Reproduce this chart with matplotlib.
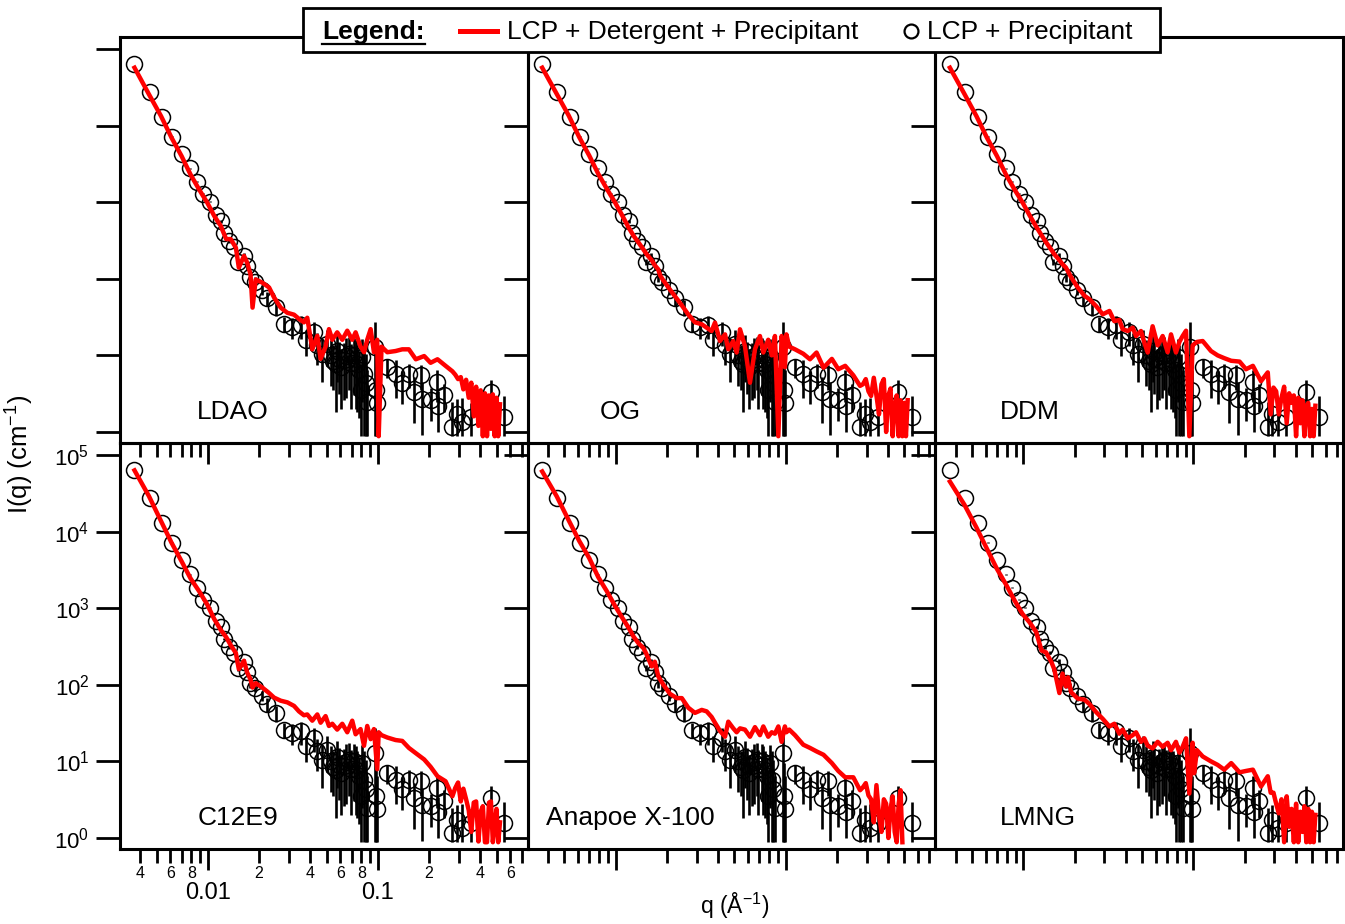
import numpy as np
import matplotlib
matplotlib.use("Agg")
import matplotlib.pyplot as plt
from matplotlib.ticker import LogLocator, NullLocator, NullFormatter, FuncFormatter
from matplotlib.lines import Line2D
from matplotlib.patches import Rectangle

plt.rcParams['font.family'] = ['Liberation Sans', 'DejaVu Sans']
plt.rcParams['mathtext.default'] = 'regular'

# LCP + Precipitant (same control curve in every panel)
q_circ = [0.00369, 0.00454, 0.00538, 0.00617, 0.00702, 0.00787, 0.00863, 0.00938, 0.01028, 0.0111,
          0.0120, 0.01248, 0.01337, 0.01432, 0.0150, 0.0162, 0.01706, 0.01778, 0.01886, 0.02066,
          0.0223, 0.0252, 0.0280, 0.0313, 0.0351, 0.0376, 0.0421, 0.0440, 0.0470, 0.0503,
          0.0527, 0.0545, 0.0564, 0.0578, 0.0590, 0.0610, 0.0631, 0.0650, 0.0675, 0.0690,
          0.0722, 0.0740, 0.0755, 0.0775, 0.0791, 0.0810, 0.0828, 0.0845, 0.0865, 0.0960,
          0.0975, 0.0985, 0.1135, 0.127, 0.139, 0.152, 0.163, 0.178, 0.182, 0.204,
          0.223, 0.226, 0.244, 0.2735, 0.292, 0.313, 0.351, 0.460, 0.551]
I_circ = [63700, 27700, 12850, 7190, 4270, 2775, 1860, 1285, 1020, 684,
          560, 394, 307, 264, 168, 200, 145, 104, 92, 72,
          56, 43, 26, 23.5, 24.6, 15.7, 20.2, 13.5, 10.5, 14.2,
          10.0, 8.5, 7.8, 11.5, 9.1, 7.0, 8.6, 9.8, 10.5, 8.0,
          10.0, 9.0, 7.8, 6.5, 3.5, 9.5, 5.8, 4.3, 2.5, 12.9,
          3.5, 2.4, 7.1, 5.8, 4.3, 5.8, 3.3, 5.5, 2.7, 2.6,
          4.5, 2.2, 3.0, 1.16, 1.73, 1.35, 1.57, 3.33, 1.57]
err_circ = [300, 150, 80, 50, 40, 30, 25, 20, 20, 20,
            20, 15, 15, 15, 15, 15, 15, 12, 12, 10,
            12, 10, 6, 7, 8, 6, 7, 6, 6, 7,
            6, 5, 6, 7, 6, 5, 6, 7, 7, 6,
            7, 7, 6, 5, 4, 7, 8, 6, 4, 14,
            6, 4, 2, 3, 2, 2, 2, 2, 1.8, 1.2,
            2.0, 1.2, 1.2, 1.3, 1.0, 1.4, 0.8, 1.5, 1.4]

# LCP + Detergent + Precipitant, read on one q grid
q_red = [0.0037, 0.0045, 0.0053, 0.0061, 0.0070, 0.0079, 0.0089, 0.0099, 0.0109, 0.0119,
         0.0128, 0.0136, 0.0146, 0.0152, 0.0163, 0.0170, 0.0178, 0.0183, 0.0191, 0.0209,
         0.0229, 0.0245, 0.0268, 0.0293, 0.0321, 0.0343, 0.0367, 0.0384, 0.0411, 0.0440,
         0.0460, 0.0492, 0.0515, 0.0539, 0.0576, 0.0617, 0.0660, 0.0706, 0.0739, 0.0790,
         0.0828, 0.0865, 0.0906, 0.0947, 0.0990, 0.1010, 0.1050, 0.1135, 0.127, 0.139,
         0.152, 0.167, 0.187, 0.204, 0.224, 0.250, 0.274,
         0.285, 0.296, 0.307, 0.318, 0.330, 0.342, 0.354, 0.366, 0.378, 0.390,
         0.402, 0.414, 0.426, 0.438, 0.450, 0.462, 0.474, 0.486, 0.498, 0.510, 0.522]
I_ldao = [57000, 25600, 13300, 7000, 4000, 2300, 1450, 990, 660, 490,
          330, 330, 255, 140, 199, 163, 115, 42, 98, 89,
          77, 57, 42, 36, 34, 30, 27, 31, 12, 18,
          9, 13, 22, 16, 20, 16, 21, 16, 20, 13,
          11, 16, 22, 11, 16, 0.88, 13, 11, 11.4, 12,
          12, 8.9, 9.8, 8.0, 8.9, 7.3, 6.2,
          5.6, 4.9, 5.2, 3.6, 4.8, 2.8, 4.4, 1.6, 3.9, 1.2,
          3.5, 0.88, 3.2, 0.88, 3.0, 1.1, 3.1, 0.88, 2.8, 0.88, 2.3]
I_og = [57000, 26000, 13500, 7100, 4050, 2350, 1480, 1000, 680, 470,
        360, 300, 240, 210, 175, 150, 133, 110, 95, 72,
        55, 45, 34, 27, 25.5, 23, 20.8, 26.8, 15.4, 18.8,
        12, 15.4, 10.9, 21.9, 13.3, 4.4, 12, 17.9, 10.9, 16,
        10, 17.9, 0.88, 17.9, 7, 18.8, 13, 12, 10.5, 8.9,
        10.9, 6.9, 9.0, 6.6, 7.3, 5.5, 4.0,
        4.2, 4.9, 3.4, 2.95, 5.1, 3.0, 1.7, 4.2, 4.9, 1.0,
        3.0, 3.7, 0.88, 2.2, 3.0, 0.88, 2.6, 0.88, 2.4, 0.88, 2.6]
I_ddm = [57000, 26000, 13300, 7000, 4000, 2300, 1450, 990, 670, 480,
         370, 300, 240, 210, 175, 155, 140, 125, 105, 77,
         60, 54, 44, 34.4, 38, 28, 29, 22, 20.8, 23,
         17.9, 20.8, 14.7, 10.9, 24, 13.5, 17.9, 11, 18.8, 10.9,
         15, 17.9, 21, 0.88, 13.5, 14, 15, 15.4, 11.4, 10,
         9.2, 8.5, 8.3, 6.6, 7.3, 4.6, 6.0,
         1.7, 3.8, 3.4, 1.7, 2.8, 3.9, 1.3, 3.2, 2.4, 3.0,
         0.88, 2.8, 1.3, 2.6, 0.88, 2.2, 2.4, 0.88, 2.0, 0.88, 2.2]
I_c12e9 = [63000, 29000, 13700, 7200, 4100, 2450, 1650, 1120, 720, 520,
           420, 330, 260, 160, 206, 145, 118, 92, 105, 92,
           78, 68, 62, 59, 53, 45, 40, 41, 34, 41,
           32, 39, 29, 31, 26, 31, 24, 34, 22.6, 26.4,
           16, 29, 19.5, 26.4, 7.9, 24, 22, 20.5, 19, 18.5,
           15, 12.8, 10.6, 8.5, 6.4, 5.5, 3.5,
           4.5, 5.3, 3.0, 4.4, 3.2, 2.3, 1.2, 2.9, 3.0, 0.9,
           2.2, 2.6, 0.88, 0.88, 2.9, 3.0, 0.88, 1.5, 2.4, 0.88, 1.6]
I_anapoe = [61000, 29000, 14000, 7600, 4500, 2550, 1650, 1080, 760, 560,
            420, 350, 300, 250, 174, 200, 130, 117, 100, 76,
            67, 67, 50, 43, 47, 45, 38, 32, 25, 21,
            33, 27, 24, 27, 26, 21, 28, 22, 28.6, 21,
            24, 23, 28.6, 18, 28.6, 24, 26, 22, 16.5, 15,
            13.5, 12.2, 9.5, 7.5, 6.2, 6.2, 4.2,
            4.6, 5.2, 3.6, 3.2, 1.6, 4.9, 2.0, 1.2, 3.2, 2.8,
            1.0, 2.4, 3.5, 1.2, 0.88, 2.8, 4.2, 0.88, np.nan, np.nan, np.nan]
I_lmng = [45000, 22500, 11300, 6000, 3250, 2050, 1250, 840, 650, 490,
          280, 265, 200, 160, 78, 140, 95, 125, 80, 66,
          64, 56, 44, 36, 28.6, 31, 23, 26, 20, 22,
          24, 18, 20, 16, 14.8, 18, 15.5, 17.5, 14, 18,
          13, 15.5, 20, 3.8, 17.5, 7, 14, 11.6, 10, 9,
          7.8, 9.5, 7.2, 7.5, 7.8, 4.7, 6.4,
          3.9, 3.9, 2.8, 2.1, 3.2, 0.88, 3.5, 1.4, 2.4, 0.88,
          2.8, 0.88, 2.2, 1.2, 2.6, 0.88, 2.4, 0.88, 2.2, 0.88, 2.0]

panel_names = ["LDAO", "OG", "DDM", "C12E9", "Anapoe X-100", "LMNG"]
red_series = [I_ldao, I_og, I_ddm, I_c12e9, I_anapoe, I_lmng]
name_x = [0.277, 0.226, 0.232, 0.289, 0.251, 0.252]

I_floor = 0.88

W, H = 1345, 924
fig = plt.figure(figsize=(W / 100, H / 100), dpi=100)

col_x = [120, 527.7, 935.4]
col_w = 407.7
row_top = [37, 443]
row_h = 406

q = np.array(q_circ)
I = np.array(I_circ)
err = np.array(err_circ)
lower = np.minimum(err, I - I_floor)


def minor_label(v, pos):
    m = int(round(v / 10 ** np.floor(np.log10(v) + 1e-9)))
    return str(m) if m in (2, 4, 6, 8) else ''


for i, (name, I_red) in enumerate(zip(panel_names, red_series)):
    r, c = divmod(i, 3)
    ax = fig.add_axes([col_x[c] / W, 1 - (row_top[r] + row_h) / H, col_w / W, row_h / H])
    ax.patch.set_alpha(0)
    ax.set_xscale('log')
    ax.set_yscale('log')

    ax.errorbar(q, I, yerr=[lower, err], fmt='none', ecolor='black', elinewidth=1.9, capsize=0, zorder=2)
    ax.plot(q, I, 'o', ms=11.5, mfc='none', mec='black', mew=1.1, zorder=3)
    ax.plot(q_red, I_red, '-', color='#ff0000', lw=3.2, zorder=4)

    ax.set_xlim(0.00304, 0.760)
    ax.set_ylim(0.718, 143500)

    ax.xaxis.set_major_locator(LogLocator(base=10, numticks=10))
    ax.xaxis.set_minor_locator(LogLocator(base=10, subs=np.arange(2, 10), numticks=20))
    ax.yaxis.set_major_locator(LogLocator(base=10, numticks=10))
    ax.yaxis.set_minor_locator(NullLocator())

    for s in ax.spines.values():
        s.set_linewidth(2.2)
    ax.tick_params(axis='both', which='both', direction='out', top=False, right=False, width=2)
    ax.tick_params(axis='y', which='major', length=17, labelsize=16, pad=5)
    ax.tick_params(axis='x', which='major', length=15, labelsize=17, pad=9)
    ax.tick_params(axis='x', which='minor', length=10, labelsize=11.5, pad=2)

    if i == 3:
        ax.xaxis.set_major_formatter(FuncFormatter(lambda v, pos: f'{v:g}'))
        ax.xaxis.set_minor_formatter(FuncFormatter(minor_label))
    else:
        ax.xaxis.set_major_formatter(NullFormatter())
        ax.xaxis.set_minor_formatter(NullFormatter())
        ax.yaxis.set_major_formatter(NullFormatter())

    ax.text(name_x[i], 0.077, name, transform=ax.transAxes, fontsize=19, ha='center', va='center')

fig.text(20 / W, 1 - 454 / H, 'I(q) (cm$^{-1}$)', rotation=90, fontsize=18.5, ha='center', va='center')
fig.text(735 / W, 1 - 906 / H, 'q (Å$^{-1}$)', fontsize=16.5, ha='center', va='center')

# legend box across the top
fig.add_artist(Rectangle((303 / W, 1 - 52 / H), 857 / W, 44 / H, transform=fig.transFigure,
                         facecolor='white', edgecolor='black', lw=2, zorder=10))
fig.text(322 / W, 1 - 32 / H, 'Legend:', fontsize=19, weight='bold', va='center', zorder=11)
fig.add_artist(Line2D([322 / W, 425 / W], [1 - 44 / H] * 2, transform=fig.transFigure,
                      color='black', lw=1.6, zorder=11))
fig.add_artist(Line2D([460 / W, 497 / W], [1 - 31 / H] * 2, transform=fig.transFigure,
                      color='#ff0000', lw=3.6, zorder=11))
fig.text(507 / W, 1 - 32.5 / H, 'LCP + Detergent + Precipitant', fontsize=19, va='center', zorder=11)
fig.add_artist(Line2D([911 / W], [1 - 31 / H], transform=fig.transFigure, marker='o', ms=10,
                      mfc='none', mec='black', mew=1.6, zorder=11))
fig.text(927 / W, 1 - 32.5 / H, 'LCP + Precipitant', fontsize=19, va='center', zorder=11)

fig.savefig('out.png', dpi=100)
